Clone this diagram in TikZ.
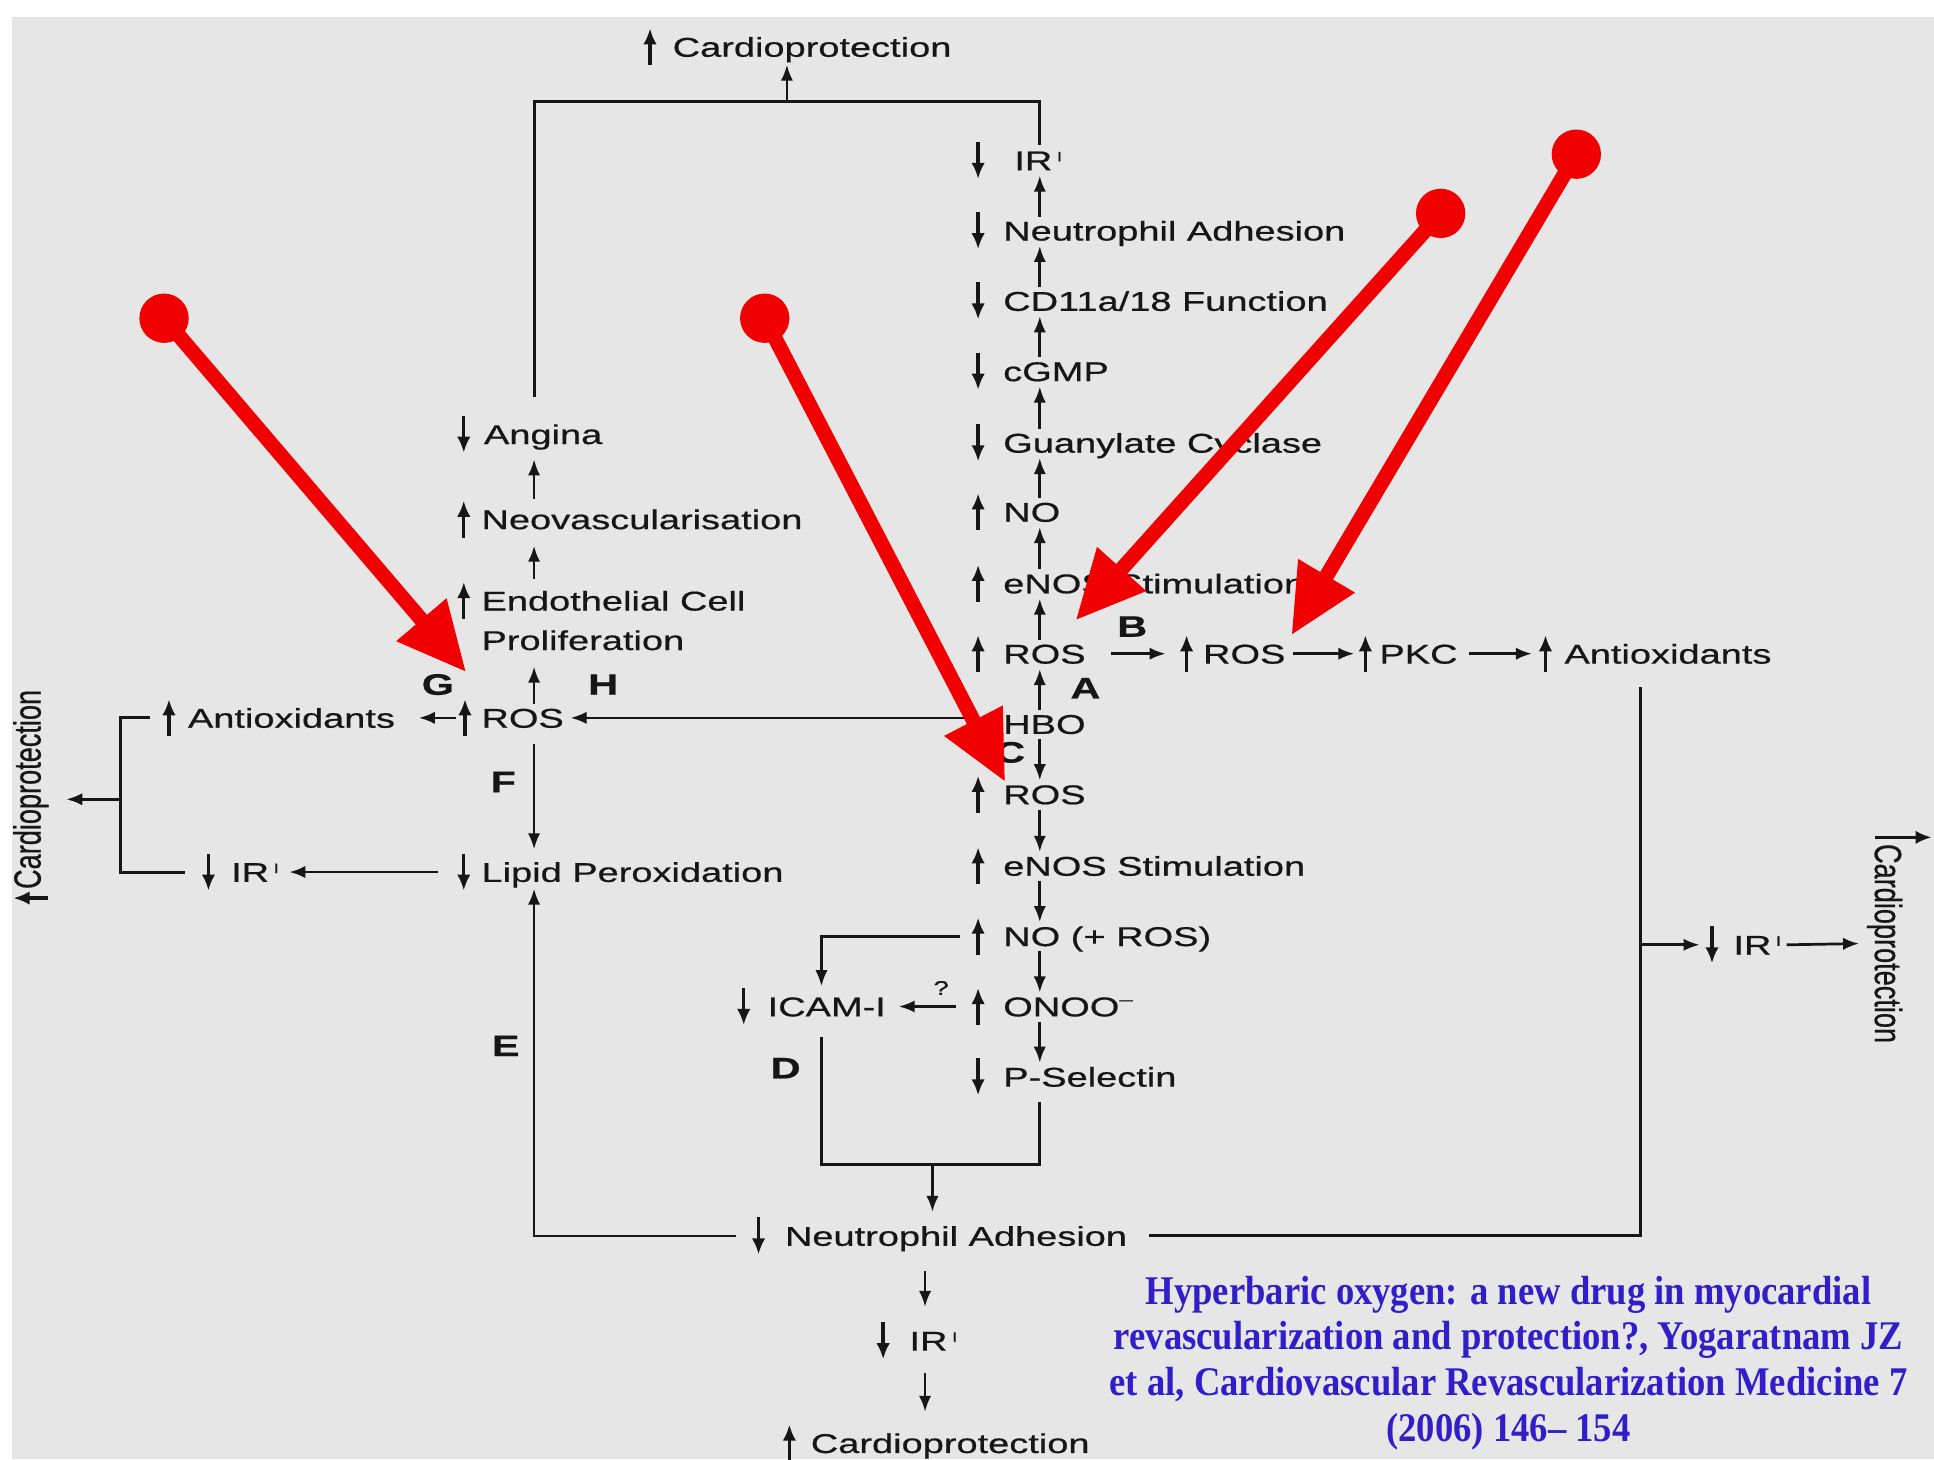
\documentclass[tikz,border=0pt]{standalone}
\usepackage{fontspec}
\setmainfont{Liberation Sans}[FakeBold=0.6]
\newfontfamily\wsans[FakeStretch=1.4,FakeBold=0.6]{Liberation Sans}
\newfontfamily\citefont[FakeStretch=0.9,Ligatures=TeX]{Liberation Serif}
\usetikzlibrary{arrows.meta,calc}
\definecolor{bg}{RGB}{230,230,230}
\definecolor{ink}{RGB}{22,22,22}
\definecolor{redA}{RGB}{240,0,0}
\definecolor{citeblue}{RGB}{50,30,200}
\newcommand\irtick{\,\raisebox{3.6pt}{\fontsize{5.5}{6}\selectfont I}}
\newcommand\IndUp[2][-20]{\draw[ind] ($(#2.base west)+(#1,7)$) -- ++(0,-30);}
\newcommand\IndDn[2][-20]{\draw[ind] ($(#2.base west)+(#1,-23)$) -- ++(0,30);}
\tikzset{
  txt/.style={font=\wsans\fontsize{11}{13}\selectfont, inner sep=0pt, anchor=base west, text height=8pt, text depth=0pt, text=ink},
  rtxt/.style={font=\fontsize{11}{13}\selectfont, inner sep=0pt, text=ink},
  lab/.style={font=\wsans\bfseries\fontsize{12}{14}\selectfont, inner sep=0pt, text=ink},
  con/.style={draw=ink, line width=1.1pt, -{Latex[length=6.5pt,width=5pt]}},
  ln/.style={draw=ink, line width=1.2pt},
  ind/.style={draw=ink, line width=1.4pt, -{Latex[length=6.5pt,width=5.5pt]}},
  dot/.style={circle, fill=redA, minimum size=20pt, inner sep=0pt},
  redarr/.style={draw=redA, line width=6pt, -{Triangle[length=28pt,width=25pt]}},
  cite/.style={font=\citefont\bfseries\fontsize{16.5}{18.5}\selectfont, text=citeblue, align=center, inner sep=0pt}
}
\begin{document}
\begin{tikzpicture}[x=0.5pt,y=-0.5pt]
\useasboundingbox (0,0) rectangle (1568,1183);
\fill[white] (0,0) rectangle (1568,1183);
\fill[bg] (10,14) rectangle (1568,1183);

% column coordinates
\coordinate (cx) at (843,0);
\coordinate (lx) at (433,0);
\coordinate (ix) at (666,0);
\coordinate (bx) at (750,0);

% ---------- top
\node[txt] (topC) at (545,46) {Cardioprotection};
\IndUp[-18]{topC}

% ---------- central column
\node[txt] (irA) at (822,138) {IR\irtick};
\node[txt] (neA) at (813,195) {Neutrophil Adhesion};
\node[txt] (cd) at (813,252) {CD11a/18 Function};
\node[txt] (cgmp) at (813,309) {cGMP};
\node[txt] (gc) at (813,367) {Guanylate Cyclase};
\node[txt] (no1) at (813,423) {NO};
\node[txt] (enos1) at (813,481) {eNOS Stimulation};
\node[txt] (ros1) at (813,538) {ROS};
\node[txt] (hbo) at (813,595) {HBO};
\node[txt] (ros2) at (813,652) {ROS};
\node[txt] (enos2) at (813,710) {eNOS Stimulation};
\node[txt] (no2) at (813,767) {NO (+ ROS)};
\node[txt] (onoo) at (813,824) {ONOO\raisebox{4.5pt}{\fontsize{7}{7}\selectfont –}};
\node[txt] (psel) at (813,881) {P-Selectin};
\IndDn[-29]{irA}
\IndDn{neA}\IndDn{cd}\IndDn{cgmp}\IndDn{gc}
\IndUp{no1}\IndUp{enos1}\IndUp{ros1}
\IndUp{ros2}\IndUp{enos2}\IndUp{no2}\IndUp{onoo}
\IndDn{psel}

\foreach \lo/\up in {hbo/ros1,ros1/enos1,enos1/no1,no1/gc,gc/cgmp,cgmp/cd,cd/neA,neA/irA}
  \draw[con] ($(\lo.north -| cx)+(0,-3)$) -- ($(\up.south -| cx)+(0,4)$);
\foreach \up/\lo in {hbo/ros2,ros2/enos2,enos2/no2,no2/onoo,onoo/psel}
  \draw[con] ($(\up.south -| cx)+(0,4)$) -- ($(\lo.north -| cx)+(0,-3)$);

% ---------- right branch
\node[txt] (ros3) at (975,538) {ROS};
\node[txt] (pkc) at (1118,538) {PKC};
\node[txt] (antiR) at (1268,538) {Antioxidants};
\IndUp[-13]{ros3}\IndUp[-11]{pkc}\IndUp[-15]{antiR}
\draw[con] ($(ros1.east)+(20,0)$) -- ($(ros3.west)+(-30,0)$);
\draw[con] ($(ros3.east)+(6,0)$) -- ($(pkc.west)+(-20,0)$);
\draw[con] ($(pkc.east)+(9,0)$) -- ($(antiR.west)+(-26,0)$);

\node[txt] (irR) at (1405,774) {IR\irtick};
\IndDn[-17]{irR}
\node[rtxt, rotate=-90] (cardR) at (1528,765) {\scalebox{1}[1.4]{Cardioprotection}};
\draw[ind] ($(cardR.west)+(-8,-5)$) -- ++(46,0);

% ---------- left branch
\node[txt] (angina) at (392,360) {Angina};
\node[txt] (neo) at (390,429) {Neovascularisation};
\node[txt] (endo) at (390,495) {Endothelial Cell};
\node[txt] (prolif) at (390,527) {Proliferation};
\node[txt] (rosL) at (390,590) {ROS};
\node[txt] (antiL) at (152,590) {Antioxidants};
\node[txt] (lipid) at (390,715) {Lipid Peroxidation};
\node[txt] (irL) at (187,715) {IR\irtick};
\IndDn[-16]{angina}\IndUp[-14]{neo}\IndUp[-14]{endo}\IndUp[-13]{rosL}
\IndUp[-15]{antiL}\IndDn[-14]{lipid}\IndDn[-18]{irL}

\node[rtxt, rotate=90] (cardL) at (25,640) {\scalebox{1}[1.4]{Cardioprotection}};
\draw[ind] ($(cardL.west)+(14,7)$) -- ++(-28,0);

\draw[con] ($(rosL.north -| lx)+(0,-3)$) -- ($(prolif.south -| lx)+(0,13)$);
\draw[con] ($(endo.north -| lx)+(0,-9)$) -- ($(neo.south -| lx)+(0,13)$);
\draw[con] ($(neo.north -| lx)+(0,-8)$) -- ($(angina.south -| lx)+(0,12)$);
\draw[con] ($(rosL.east -| hbo.west)+(-13,0)$) -- ($(rosL.east)+(5,0)$);
\draw[con] ($(rosL.west)+(-20,0)$) -- ($(antiL.east)+(19,0)$);
\draw[con] ($(rosL.south -| lx)+(0,13)$) -- ($(lipid.north -| lx)+(0,-10)$);
\draw[con] ($(lipid.west)+(-35,0)$) -- ($(irL.east)+(8,0)$);

\coordinate (lbm) at (98,648);
\draw[ln] ($(antiL.west)+(-30,0)$) -| (lbm) |- ($(irL.west)+(-37,0)$);
\draw[con] (lbm) -- ($(cardL.south |- lbm)+(14,0)$);

% ---------- top bracket
\coordinate (bm) at (638,82);
\draw[ln] ($(irA.north -| cx)+(0,-4)$) |- (bm) -| ($(angina.north -| lx)+(0,-22)$);
\draw[con] (bm) -- ($(topC.south -| bm)+(0,6)$);

% ---------- ICAM branch
\node[txt] (icam) at (622,824) {ICAM-I};
\IndDn[-19]{icam}
\draw[con] ($(no2.west)+(-35,0)$) -| ($(icam.north -| ix)+(0,-8)$);
\draw[con] ($(onoo.west)+(-38,0)$) -- ($(icam.east)+(10,0)$);
\node[font=\wsans\fontsize{8}{9}\selectfont, text=ink, inner sep=0pt] (q) at (763,801) {?};
\coordinate (jn) at (756,944);
\draw[ln] ($(icam.south -| ix)+(0,16)$) |- (jn) -| ($(psel.south -| cx)+(0,12)$);

% ---------- bottom
\node[txt] (neB) at (636,1010) {Neutrophil Adhesion};
\node[txt] (irB) at (737,1095) {IR\irtick};
\node[txt] (cardB) at (657,1178) {Cardioprotection};
\IndDn[-21]{neB}\IndDn[-21]{irB}\IndUp[-17]{cardB}
\draw[con] (jn) -- ($(neB.north -| jn)+(0,-11)$);
\draw[con] ($(neB.south -| bx)+(0,20)$) -- ($(irB.north -| bx)+(0,-19)$);
\draw[con] ($(irB.south -| bx)+(0,18)$) -- ($(cardB.north -| bx)+(0,-17)$);
\draw[con] ($(neB.west)+(-39,0)$) -| ($(lipid.south -| lx)+(0,5)$);
\coordinate (rt) at (1330,557);
\draw[ln] ($(neB.east)+(17,0)$) -| (rt);
\draw[con] (rt |- irR) -- ($(irR.west)+(-27,0)$);
\draw[con] ($(irR.east)+(4,0)$) -- ($(cardR.south)+(-6,0)$);

% ---------- letters
\node[lab] (lA) at (880,558) {A};
\node[lab] (lB) at (918,508) {B};
\node[lab] (lC) at (819,610) {C};
\node[lab] (lD) at (637,866) {D};
\node[lab] (lE) at (410,848) {E};
\node[lab] (lF) at (408,634) {F};
\node[lab] (lG) at (355,555) {G};
\node[lab] (lH) at (489,555) {H};

% ---------- citation
\node[cite] (cit) at (1223,1105) {Hyperbaric oxygen: a new drug in myocardial\\revascularization and protection?, Yogaratnam JZ\\et al, Cardiovascular Revascularization Medicine 7\\(2006) 146– 154};

% ---------- red pointers
\node[dot] (d1) at (133,258) {};
\node[dot] (d2) at (620,258) {};
\node[dot] (d3) at (1168,173) {};
\node[dot] (d4) at (1278,125) {};
\coordinate (t1) at (378,545);
\coordinate (t2) at (815,634);
\coordinate (t3) at (872,503);
\coordinate (t4) at (1047,515);
\draw[redarr] (d1.center) -- (t1);
\draw[redarr] (d2.center) -- (t2);
\draw[redarr] (d3.center) -- (t3);
\draw[redarr] (d4.center) -- (t4);
\end{tikzpicture}
\end{document}
